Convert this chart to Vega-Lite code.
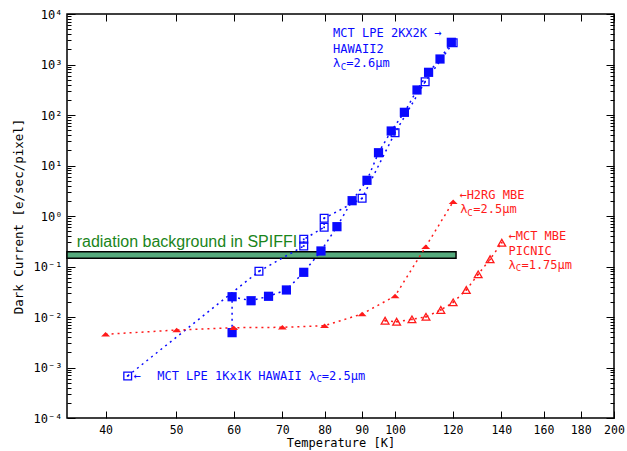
{
  "$schema": "https://vega.github.io/schema/vega-lite/v6.json",
  "width": 547,
  "height": 404,
  "autosize": {"type": "none"},
  "padding": {"left": 67, "top": 14, "right": 13, "bottom": 33},
  "background": "white",
  "config": {
    "view": {"stroke": "black", "strokeWidth": 1.5},
    "axis": {
      "domain": false,
      "grid": false,
      "labelFont": "DejaVu Sans Mono",
      "titleFont": "DejaVu Sans Mono",
      "labelColor": "black",
      "titleColor": "black",
      "tickColor": "black",
      "tickWidth": 1,
      "titleFontWeight": "normal",
      "labelFlush": false,
      "labelOverlap": false,
      "labelBound": false
    }
  },
  "datasets": {
    "pts": [
      {"s": "F", "i": 1, "T": 59.7, "D": 0.0049},
      {"s": "F", "i": 2, "T": 59.7, "D": 0.0252},
      {"s": "F", "i": 3, "T": 63.4, "D": 0.021},
      {"s": "F", "i": 4, "T": 67.0, "D": 0.0257},
      {"s": "F", "i": 5, "T": 70.9, "D": 0.0343},
      {"s": "F", "i": 6, "T": 74.9, "D": 0.0767},
      {"s": "F", "i": 7, "T": 79.1, "D": 0.203},
      {"s": "F", "i": 8, "T": 83.2, "D": 0.615},
      {"s": "F", "i": 9, "T": 87.3, "D": 2.01},
      {"s": "F", "i": 10, "T": 91.5, "D": 5.09},
      {"s": "F", "i": 11, "T": 94.9, "D": 17.9},
      {"s": "F", "i": 12, "T": 98.8, "D": 48.2},
      {"s": "F", "i": 13, "T": 103.0, "D": 113},
      {"s": "F", "i": 14, "T": 107.2, "D": 313},
      {"s": "F", "i": 15, "T": 111.2, "D": 700},
      {"s": "F", "i": 16, "T": 115.3, "D": 1285},
      {"s": "F", "i": 17, "T": 119.5, "D": 2750},
      {"s": "O", "i": 1, "T": 42.9, "D": 0.00068},
      {"s": "O", "i": 2, "T": 65.0, "D": 0.0803},
      {"s": "O", "i": 3, "T": 74.9, "D": 0.255},
      {"s": "O", "i": 4, "T": 74.9, "D": 0.345},
      {"s": "O", "i": 5, "T": 79.9, "D": 0.597},
      {"s": "O", "i": 6, "T": 79.9, "D": 0.9},
      {"s": "O", "i": 7, "T": 90.1, "D": 2.24},
      {"s": "O", "i": 8, "T": 100.0, "D": 44.6},
      {"s": "O", "i": 9, "T": 110.0, "D": 457},
      {"s": "O", "i": 10, "T": 120.2, "D": 2700},
      {"s": "H", "i": 1, "T": 40.0, "D": 0.00454},
      {"s": "H", "i": 2, "T": 50.1, "D": 0.00553},
      {"s": "H", "i": 3, "T": 60.0, "D": 0.00614},
      {"s": "H", "i": 4, "T": 70.0, "D": 0.00625},
      {"s": "H", "i": 5, "T": 80.0, "D": 0.00673},
      {"s": "H", "i": 6, "T": 90.1, "D": 0.0115},
      {"s": "H", "i": 7, "T": 100.0, "D": 0.026},
      {"s": "H", "i": 8, "T": 110.2, "D": 0.247},
      {"s": "H", "i": 9, "T": 120.2, "D": 1.92},
      {"s": "P", "i": 1, "T": 96.9, "D": 0.00845},
      {"s": "P", "i": 2, "T": 100.5, "D": 0.00807},
      {"s": "P", "i": 3, "T": 105.5, "D": 0.009},
      {"s": "P", "i": 4, "T": 110.3, "D": 0.0101},
      {"s": "P", "i": 5, "T": 115.6, "D": 0.0138},
      {"s": "P", "i": 6, "T": 120.2, "D": 0.0195},
      {"s": "P", "i": 7, "T": 125.3, "D": 0.0343},
      {"s": "P", "i": 8, "T": 130.1, "D": 0.07},
      {"s": "P", "i": 9, "T": 135.1, "D": 0.139},
      {"s": "P", "i": 10, "T": 140.2, "D": 0.296}
    ],
    "band": [{"T": 35.4, "T2": 121.3, "D": 0.145, "D2": 0.196}],
    "lbl": [{"T": 36.5, "D": 0.243, "txt": "radiation background in SPIFFI"}],
    "ann": [
      {"T": 82.2, "D": 4206, "txt": "MCT LPE 2KX2K →", "s": "F"},
      {"T": 82.2, "D": 2028, "txt": "HAWAII2", "s": "F"},
      {"T": 82.2, "D": 1057, "txt": "λ", "s": "F"},
      {"T": 85.7, "D": 1057, "txt": "=2.6μm", "s": "F"},
      {"T": 43.7, "D": 0.00068, "txt": "←", "s": "O"},
      {"T": 47.1, "D": 0.00068, "txt": "MCT LPE 1Kx1K HAWAII λ", "s": "O"},
      {"T": 79.3, "D": 0.00068, "txt": "=2.5μm", "s": "O"},
      {"T": 122.6, "D": 2.61, "txt": "←H2RG MBE", "s": "H"},
      {"T": 122.9, "D": 1.36, "txt": "λ", "s": "H"},
      {"T": 128.1, "D": 1.36, "txt": "=2.5μm", "s": "H"},
      {"T": 143.2, "D": 0.402, "txt": "←MCT MBE", "s": "P"},
      {"T": 143.2, "D": 0.203, "txt": "PICNIC", "s": "P"},
      {"T": 143.2, "D": 0.107, "txt": "λ", "s": "P"},
      {"T": 149.2, "D": 0.107, "txt": "=1.75μm", "s": "P"}
    ],
    "sub": [
      {"T": 84.2, "D": 892, "s": "F"},
      {"T": 78.0, "D": 0.00059, "s": "O"},
      {"T": 125.7, "D": 1.17, "s": "H"},
      {"T": 146.5, "D": 0.0933, "s": "P"}
    ]
  },
  "layer": [
    {
      "data": {"name": "band"},
      "mark": {"type": "rect", "fill": "#55a97c", "stroke": "black", "strokeWidth": 1.5},
      "encoding": {
        "x": {"field": "T", "type": "quantitative", "scale": {"type": "log", "domain": [35.4, 200], "nice": false},
          "axis": {"orient": "bottom", "values": [40, 50, 60, 70, 80, 90, 100, 120, 140, 160, 180, 200], "format": "d", "ticks": false, "labelPadding": 6, "labelFontSize": 11.5, "title": "Temperature [K]", "titleFontSize": 12, "titlePadding": 2}},
        "x2": {"field": "T2"},
        "y": {"field": "D", "type": "quantitative", "scale": {"type": "log", "domain": [0.0001, 10000], "nice": false},
          "axis": {"orient": "left", "values": [0.0001, 0.001, 0.01, 0.1, 1, 10, 100, 1000, 10000], "labelExpr": "['10⁻⁴','10⁻³','10⁻²','10⁻¹','10⁰','10¹','10²','10³','10⁴'][round(log(datum.value)/LN10)+4]", "ticks": false, "labelPadding": 5, "labelFontSize": 12, "title": "Dark Current [e/sec/pixel]", "titleFontSize": 12.5, "titlePadding": 8}},
        "y2": {"field": "D2"}
      }
    },
    {
      "data": {"name": "lbl"},
      "mark": {"type": "text", "align": "left", "baseline": "alphabetic", "font": "Liberation Sans", "fontSize": 16, "fill": "#1a851a"},
      "encoding": {
        "x": {"field": "T", "type": "quantitative", "scale": {"type": "log", "domain": [35.4, 200], "nice": false},
          "axis": {"orient": "bottom", "values": [40, 50, 60, 70, 80, 90, 100, 120, 140, 160, 180, 200], "labels": false, "tickSize": -7, "title": null}},
        "y": {"field": "D", "type": "quantitative", "scale": {"type": "log", "domain": [0.0001, 10000], "nice": false},
          "axis": {"orient": "left", "values": [0.0001, 0.001, 0.01, 0.1, 1, 10, 100, 1000, 10000], "labels": false, "tickSize": -8, "title": null}},
        "text": {"field": "txt"}
      }
    },
    {
      "data": {"name": "pts"},
      "mark": {"type": "line", "strokeDash": [2, 4], "strokeWidth": 1.5},
      "encoding": {
        "x": {"field": "T", "type": "quantitative", "scale": {"type": "log", "domain": [35.4, 200], "nice": false},
          "axis": {"orient": "top", "values": [40, 50, 60, 70, 80, 90, 100, 120, 140, 160, 180, 200], "labels": false, "tickSize": -7, "title": null}},
        "y": {"field": "D", "type": "quantitative", "scale": {"type": "log", "domain": [0.0001, 10000], "nice": false},
          "axis": {"orient": "left", "values": [0.0002,0.0003,0.0004,0.0005,0.0006,0.0007,0.0008,0.0009,0.002,0.003,0.004,0.005,0.006,0.007,0.008,0.009,0.02,0.03,0.04,0.05,0.06,0.07,0.08,0.09,0.2,0.3,0.4,0.5,0.6,0.7,0.8,0.9,2,3,4,5,6,7,8,9,20,30,40,50,60,70,80,90,200,300,400,500,600,700,800,900,2000,3000,4000,5000,6000,7000,8000,9000], "labels": false, "tickSize": -4, "title": null}},
        "color": {"field": "s", "type": "nominal", "scale": {"domain": ["F", "O", "H", "P"], "range": ["#0a0aff", "#0a0aff", "#ff1a1a", "#ff1a1a"]}, "legend": null},
        "order": {"field": "i", "type": "quantitative"}
      }
    },
    {
      "data": {"name": "pts"},
      "transform": [{"filter": "datum.s == 'O'"}],
      "mark": {"type": "point", "shape": "square", "filled": false, "size": 60, "strokeWidth": 1.3, "opacity": 1},
      "encoding": {
        "x": {"field": "T", "type": "quantitative", "scale": {"type": "log", "domain": [35.4, 200], "nice": false}, "axis": null},
        "y": {"field": "D", "type": "quantitative", "scale": {"type": "log", "domain": [0.0001, 10000], "nice": false},
          "axis": {"orient": "right", "values": [0.0001, 0.001, 0.01, 0.1, 1, 10, 100, 1000, 10000], "labels": false, "tickSize": -8, "title": null}},
        "color": {"field": "s", "type": "nominal", "scale": {"domain": ["F", "O", "H", "P"], "range": ["#0a0aff", "#0a0aff", "#ff1a1a", "#ff1a1a"]}, "legend": null}
      }
    },
    {
      "data": {"name": "pts"},
      "transform": [{"filter": "datum.s == 'P'"}],
      "mark": {"type": "point", "shape": "triangle-up", "filled": false, "size": 60, "strokeWidth": 1.3, "opacity": 1},
      "encoding": {
        "x": {"field": "T", "type": "quantitative", "scale": {"type": "log", "domain": [35.4, 200], "nice": false}, "axis": null},
        "y": {"field": "D", "type": "quantitative", "scale": {"type": "log", "domain": [0.0001, 10000], "nice": false},
          "axis": {"orient": "right", "values": [0.0002,0.0003,0.0004,0.0005,0.0006,0.0007,0.0008,0.0009,0.002,0.003,0.004,0.005,0.006,0.007,0.008,0.009,0.02,0.03,0.04,0.05,0.06,0.07,0.08,0.09,0.2,0.3,0.4,0.5,0.6,0.7,0.8,0.9,2,3,4,5,6,7,8,9,20,30,40,50,60,70,80,90,200,300,400,500,600,700,800,900,2000,3000,4000,5000,6000,7000,8000,9000], "labels": false, "tickSize": -4, "title": null}},
        "color": {"field": "s", "type": "nominal", "scale": {"domain": ["F", "O", "H", "P"], "range": ["#0a0aff", "#0a0aff", "#ff1a1a", "#ff1a1a"]}, "legend": null}
      }
    },
    {
      "data": {"name": "pts"},
      "transform": [{"filter": "datum.s == 'O' || datum.s == 'P'"}],
      "mark": {"type": "point", "shape": "square", "filled": true, "size": 3, "opacity": 1},
      "encoding": {
        "x": {"field": "T", "type": "quantitative", "scale": {"type": "log", "domain": [35.4, 200], "nice": false}, "axis": null},
        "y": {"field": "D", "type": "quantitative", "scale": {"type": "log", "domain": [0.0001, 10000], "nice": false}, "axis": null},
        "color": {"field": "s", "type": "nominal", "scale": {"domain": ["F", "O", "H", "P"], "range": ["#0a0aff", "#0a0aff", "#ff1a1a", "#ff1a1a"]}, "legend": null}
      }
    },
    {
      "data": {"name": "pts"},
      "transform": [{"filter": "datum.s == 'F'"}],
      "mark": {"type": "point", "shape": "square", "filled": true, "size": 85, "opacity": 1},
      "encoding": {
        "x": {"field": "T", "type": "quantitative", "scale": {"type": "log", "domain": [35.4, 200], "nice": false}, "axis": null},
        "y": {"field": "D", "type": "quantitative", "scale": {"type": "log", "domain": [0.0001, 10000], "nice": false}, "axis": null},
        "color": {"field": "s", "type": "nominal", "scale": {"domain": ["F", "O", "H", "P"], "range": ["#0a0aff", "#0a0aff", "#ff1a1a", "#ff1a1a"]}, "legend": null}
      }
    },
    {
      "data": {"name": "pts"},
      "transform": [{"filter": "datum.s == 'H'"}],
      "mark": {"type": "point", "shape": "M -1 0.5 L 1 0.5 L 0 -0.5 Z", "filled": true, "size": 80, "opacity": 1},
      "encoding": {
        "x": {"field": "T", "type": "quantitative", "scale": {"type": "log", "domain": [35.4, 200], "nice": false}, "axis": null},
        "y": {"field": "D", "type": "quantitative", "scale": {"type": "log", "domain": [0.0001, 10000], "nice": false}, "axis": null},
        "color": {"field": "s", "type": "nominal", "scale": {"domain": ["F", "O", "H", "P"], "range": ["#0a0aff", "#0a0aff", "#ff1a1a", "#ff1a1a"]}, "legend": null}
      }
    },
    {
      "data": {"name": "ann"},
      "mark": {"type": "text", "align": "left", "baseline": "middle", "font": "DejaVu Sans Mono", "fontSize": 12},
      "encoding": {
        "x": {"field": "T", "type": "quantitative", "scale": {"type": "log", "domain": [35.4, 200], "nice": false}, "axis": null},
        "y": {"field": "D", "type": "quantitative", "scale": {"type": "log", "domain": [0.0001, 10000], "nice": false}, "axis": null},
        "text": {"field": "txt"},
        "color": {"field": "s", "type": "nominal", "scale": {"domain": ["F", "O", "H", "P"], "range": ["#0a0aff", "#0a0aff", "#ff1a1a", "#ff1a1a"]}, "legend": null}
      }
    },
    {
      "data": {"name": "sub"},
      "mark": {"type": "text", "align": "left", "baseline": "middle", "font": "DejaVu Sans Mono", "fontSize": 9, "text": "C"},
      "encoding": {
        "x": {"field": "T", "type": "quantitative", "scale": {"type": "log", "domain": [35.4, 200], "nice": false}, "axis": null},
        "y": {"field": "D", "type": "quantitative", "scale": {"type": "log", "domain": [0.0001, 10000], "nice": false}, "axis": null},
        "color": {"field": "s", "type": "nominal", "scale": {"domain": ["F", "O", "H", "P"], "range": ["#0a0aff", "#0a0aff", "#ff1a1a", "#ff1a1a"]}, "legend": null}
      }
    }
  ],
  "resolve": {"axis": {"x": "independent", "y": "independent"}}
}
